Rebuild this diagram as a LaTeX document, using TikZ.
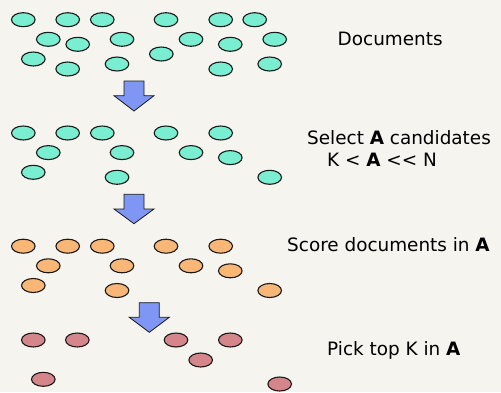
\documentclass[tikz,border=0pt]{standalone}
\usepackage{fontspec}
\setmainfont{DejaVu Sans}
\usetikzlibrary{shapes.geometric}
\definecolor{bgc}{RGB}{245,244,238}
\definecolor{tealc}{RGB}{122,238,208}
\definecolor{orangec}{RGB}{249,183,119}
\definecolor{pinkc}{RGB}{212,134,138}
\definecolor{bluec}{RGB}{127,150,245}
\definecolor{linec}{RGB}{25,25,25}
\tikzset{
  doc/.style={ellipse, draw=linec, line width=1.1pt, inner sep=0pt, minimum width=23.6pt, minimum height=14pt},
  docA/.style={doc, fill=tealc},
  docB/.style={doc, fill=orangec},
  docC/.style={doc, fill=pinkc},
  downarrow/.style={fill=bluec, draw=linec, line width=0.8pt, line join=miter},
  lbl/.style={inner sep=0pt, anchor=base west, font=\fontsize{18.4}{22}\selectfont, text=black}
}
\begin{document}
\begin{tikzpicture}[x=1pt,y=-1pt]
\fill[bgc] (0,0) rectangle (501,392);
\useasboundingbox (0,0) rectangle (501,392);
% group 1: all documents
\foreach \px/\py [count=\i] in {23.3/19.7,67.7/19.7,102.3/19.7,166/19.7,220.7/19.7,254.7/19.7,
  48.3/39.3,77.7/44.3,122/39.3,191/39.3,230.3/44.3,274.7/39.3,
  33.3/59,67.7/69,117/64,161.3/54,220.7/69,269.7/64}
  \node[docA] (d\i) at (\px,\py) {};
% group 2: candidates
\foreach \px/\py [count=\i] in {23.3/19.7,67.7/19.7,102.3/19.7,166/19.7,220.7/19.7,
  48.3/39.3,122/39.3,191/39.3,230.3/44.3,33.3/59,117/64,269.7/64}
  \node[docA] (s\i) at (\px,\py+113.3) {};
% group 3: scored
\foreach \px/\py [count=\i] in {23.3/19.7,67.7/19.7,102.3/19.7,166/19.7,220.7/19.7,
  48.3/39.3,122/39.3,191/39.3,230.3/44.3,33.3/59,117/64,269.7/64}
  \node[docB] (c\i) at (\px,\py+226.5) {};
% group 4: top K
\foreach \px/\py [count=\i] in {33.3/340,77.3/340,176/340,230.3/340,200.7/360,43.3/379.3,279.7/384}
  \node[docC] (p\i) at (\px,\py) {};
% arrows
\draw[downarrow] (124,81) -- (144,81) -- (144,95.7) -- (154,95.7) -- (134,111) -- (114,95.7) -- (124,95.7) -- cycle;
\draw[downarrow] (124,194.3) -- (144,194.3) -- (144,209) -- (154,209) -- (134,223.7) -- (114,209) -- (124,209) -- cycle;
\draw[downarrow] (139.3,302.7) -- (159.3,302.7) -- (159.3,317.3) -- (169.3,317.3) -- (149.3,332.3) -- (129.3,317.3) -- (139.3,317.3) -- cycle;
% labels
\node[lbl] (t1) at (337.5,45.7) {Documents};
\node[lbl] (t2) at (307,144) {Select \textbf{A} candidates};
\node[lbl] (t3) at (327,166) {K < \textbf{A} <{}< N};
\node[lbl] (t4) at (287,251.7) {Score documents in \textbf{A}};
\node[lbl] (t5) at (327,355) {Pick top K in \textbf{A}};
\end{tikzpicture}
\end{document}
